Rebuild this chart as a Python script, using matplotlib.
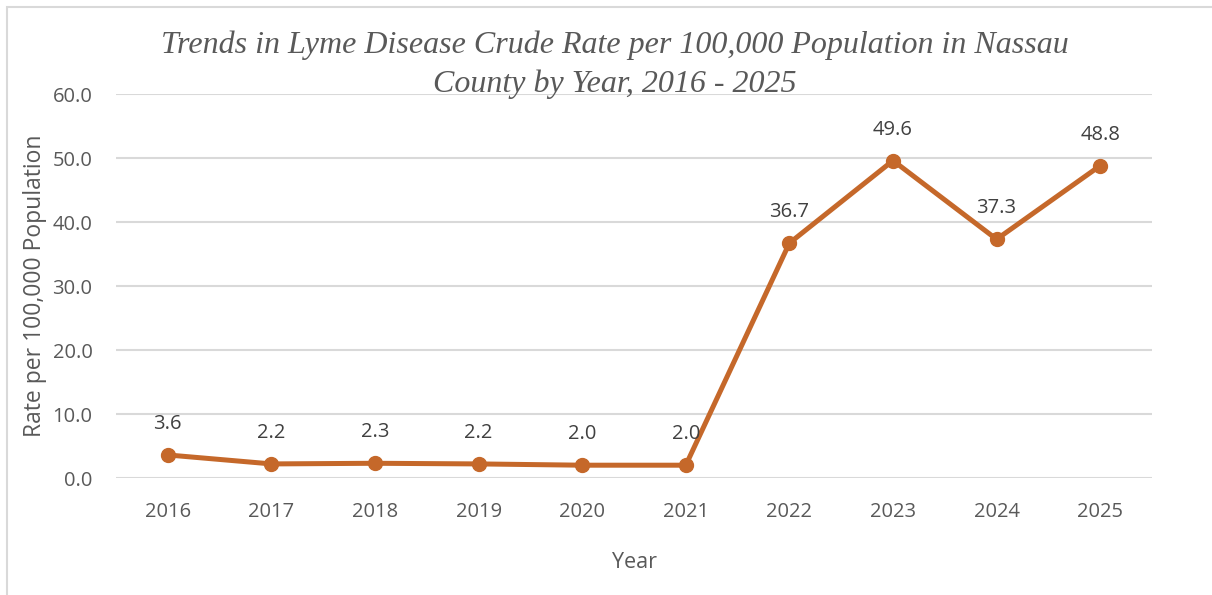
import matplotlib.pyplot as plt
from matplotlib.patches import Rectangle

# data
years = ['2016', '2017', '2018', '2019', '2020', '2021', '2022', '2023', '2024', '2025']
rates = [3.6, 2.2, 2.3, 2.2, 2.0, 2.0, 36.7, 49.6, 37.3, 48.8]
y_ticks = [0, 10, 20, 30, 40, 50, 60]

line_color = '#C5682A'
text_gray = '#595959'

plt.rcParams['font.family'] = ['Open Sans', 'DejaVu Sans']

fig = plt.figure(figsize=(12.12, 5.95), dpi=100)
ax = fig.add_axes([116 / 1212, 1 - 478 / 595, (1152 - 116) / 1212, (478 - 94) / 595])

x = list(range(len(years)))
ax.plot(x, rates, color=line_color, lw=3.6, marker='o', ms=10, solid_joinstyle='round', zorder=3)

# value labels
for xi, v in zip(x, rates):
    ax.annotate(f'{v:.1f}', (xi, v), xytext=(0, 15), textcoords='offset points',
                ha='center', va='bottom', fontsize=14.5, color='#404040')

ax.set_xlim(-0.5, len(years) - 0.5)
ax.set_ylim(0, 60)
ax.set_xticks(x)
ax.set_xticklabels(years)
ax.set_yticks(y_ticks)
ax.set_yticklabels([f'{t:.1f}' for t in y_ticks])
ax.tick_params(axis='both', length=0, labelsize=14.5, labelcolor=text_gray)
ax.tick_params(axis='x', pad=17)
ax.tick_params(axis='y', pad=17)
ax.grid(axis='y', color='#D9D9D9', lw=1.5)
ax.set_axisbelow(True)
for s in ax.spines.values():
    s.set_visible(False)

ax.set_xlabel('Year', fontsize=15.5, color=text_gray, labelpad=22)
ax.set_ylabel('Rate per 100,000 Population', fontsize=16.5, color=text_gray, labelpad=4)

fig.text(0.507, 1 - 65 / 595,
         'Trends in Lyme Disease Crude Rate per 100,000 Population in Nassau\nCounty by Year, 2016 - 2025',
         ha='center', va='center', fontsize=23, color=text_gray, style='italic',
         family='Liberation Serif', linespacing=1.4)

# chart border
fig.patches.append(Rectangle((7 / 1212, -0.1), 1.2, 1 - 7 / 595 + 0.1, transform=fig.transFigure,
                             fill=False, edgecolor='#D9D9D9', lw=1.5))

fig.savefig('out.png', dpi=100, facecolor='white')
